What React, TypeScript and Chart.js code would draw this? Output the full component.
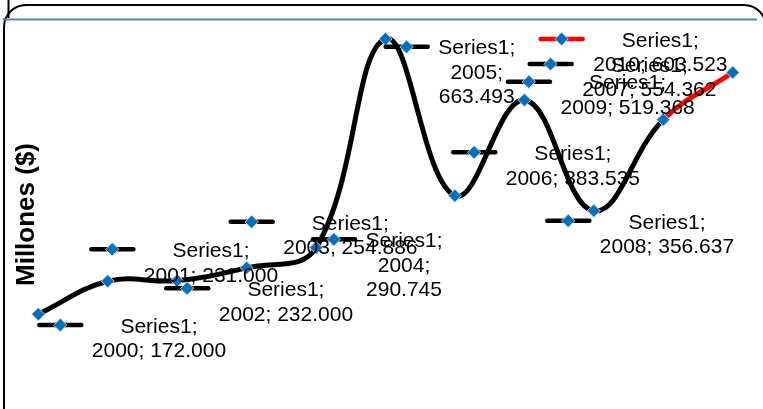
import React, { useEffect, useRef } from 'react';
import { Chart, registerables } from 'chart.js';

Chart.register(...registerables);

// ---- data ----
const seriesName = 'Series1';
const years = ['2000', '2001', '2002', '2003', '2004', '2005', '2006', '2007', '2008', '2009', '2010'];
const values = [172, 231, 232, 254.886, 290.745, 663.493, 383.535, 554.362, 356.637, 519.368, 603.523];
const yAxisTitle = 'Millones ($)';
const yMin = 0;
const yMax = 700;
// index of the point whose following segment is drawn in red
const highlightFrom = 9;
// labels that wrap into three lines
const labelWrapped = [false, false, false, false, true, true, false, false, false, false, false];
// label (legend key centre) offset from its data point, in pixels
const labelOffsets: [number, number][] = [
  [22, 10.7], [4.6, -31.9], [10.1, 7.6], [5.1, -46.1], [17.9, -8.5], [21.2, 7.7],
  [19.3, -43.5], [26.3, -36.1], [-25.5, 9.9], [-134.3, -38], [-171, -33.6],
];

const BLACK = '#000000';
const RED = '#FF0000';
const BLUE = '#0070C0';
const MARKER_BORDER = '#C4C4C4';
const FONT = '"Liberation Sans", Arial, sans-serif';

function fmt(v: number) {
  return v.toFixed(3);
}

function diamond(ctx: CanvasRenderingContext2D, x: number, y: number, r: number) {
  ctx.beginPath();
  ctx.moveTo(x - r, y);
  ctx.lineTo(x, y - r);
  ctx.lineTo(x + r, y);
  ctx.lineTo(x, y + r);
  ctx.closePath();
  ctx.fillStyle = BLUE;
  ctx.fill();
  ctx.lineWidth = 1;
  ctx.strokeStyle = MARKER_BORDER;
  ctx.stroke();
}

export default function App() {
  const ref = useRef<HTMLCanvasElement>(null);

  useEffect(() => {
    const canvas = ref.current;
    if (!canvas) return;

    const framePlugin = {
      id: 'frame',
      beforeDraw(chart: any) {
        const ctx: CanvasRenderingContext2D = chart.ctx;
        ctx.save();
        ctx.strokeStyle = BLACK;
        ctx.lineWidth = 2;
        ctx.beginPath();
        ctx.moveTo(8.5, 0);
        ctx.lineTo(8.5, 18);
        ctx.stroke();
        const l = 4, t = 5, r = 766, b = 460, rad = 22;
        ctx.beginPath();
        ctx.moveTo(l + rad, t);
        ctx.lineTo(r - rad, t);
        ctx.arcTo(r, t, r, t + rad, rad);
        ctx.lineTo(r, b);
        ctx.lineTo(l, b);
        ctx.lineTo(l, t + rad);
        ctx.arcTo(l, t, l + rad, t, rad);
        ctx.closePath();
        ctx.stroke();
        // plot area top border
        const top = Math.round(chart.chartArea.top) + 0.5;
        ctx.strokeStyle = '#4F81BD';
        ctx.lineWidth = 2;
        ctx.beginPath();
        ctx.moveTo(3, top);
        ctx.lineTo(757, top);
        ctx.stroke();
        // y axis title
        ctx.fillStyle = BLACK;
        ctx.font = `bold 26px ${FONT}`;
        ctx.textAlign = 'center';
        ctx.textBaseline = 'alphabetic';
        ctx.translate(33.5, 214.5);
        ctx.rotate(-Math.PI / 2);
        ctx.fillText(yAxisTitle, 0, 0);
        ctx.restore();
      },
    };

    const labelPlugin = {
      id: 'pointLabels',
      afterDatasetsDraw(chart: any) {
        const ctx: CanvasRenderingContext2D = chart.ctx;
        const meta = chart.getDatasetMeta(0);
        ctx.save();
        meta.data.forEach((pt: any, i: number) => {
          const kx = pt.x + labelOffsets[i][0];
          const ky = pt.y + labelOffsets[i][1];
          // legend key
          ctx.strokeStyle = i === highlightFrom + 1 ? RED : BLACK;
          ctx.lineWidth = 4.5;
          ctx.lineCap = 'round';
          ctx.beginPath();
          ctx.moveTo(kx - 21, ky);
          ctx.lineTo(kx + 21, ky);
          ctx.stroke();
          diamond(ctx, kx, ky, 6.5);
          // text
          const lines = labelWrapped[i]
            ? [`${seriesName};`, `${years[i]};`, fmt(values[i])]
            : [`${seriesName};`, `${years[i]}; ${fmt(values[i])}`];
          ctx.font = `21px ${FONT}`;
          ctx.fillStyle = BLACK;
          ctx.textAlign = 'center';
          ctx.textBaseline = 'middle';
          const w = Math.max(...lines.map((s) => ctx.measureText(s).width));
          const cx = kx + 31.5 + w / 2;
          lines.forEach((s, j) => {
            ctx.fillText(s, cx, ky + 2 + j * 24.5);
          });
        });
        ctx.restore();
      },
    };

    const chart = new Chart(canvas, {
      type: 'line',
      data: {
        labels: years,
        datasets: [
          {
            label: seriesName,
            data: values,
            borderColor: BLACK,
            borderWidth: 5,
            tension: 0.4,
            pointStyle: 'rectRot',
            pointRadius: 6.5,
            pointBackgroundColor: BLUE,
            pointBorderColor: MARKER_BORDER,
            pointBorderWidth: 1,
            clip: false as any,
            segment: {
              borderColor: (c: any) => (c.p0DataIndex === highlightFrom ? RED : BLACK),
            },
          },
        ],
      },
      options: {
        animation: false,
        responsive: false,
        devicePixelRatio: 1,
        layout: { padding: { left: 38.3, right: 30.3, top: 18.5, bottom: 19.4 } },
        plugins: { legend: { display: false }, tooltip: { enabled: false } },
        scales: {
          x: { type: 'category', display: false, offset: false },
          y: { type: 'linear', display: false, min: yMin, max: yMax },
        },
      },
      plugins: [framePlugin, labelPlugin],
    });

    return () => chart.destroy();
  }, []);

  return (
    <div style={{ position: 'absolute', left: 0, top: 0, width: 763, height: 430 }}>
      <canvas ref={ref} width={763} height={430} style={{ display: 'block' }} />
    </div>
  );
}
